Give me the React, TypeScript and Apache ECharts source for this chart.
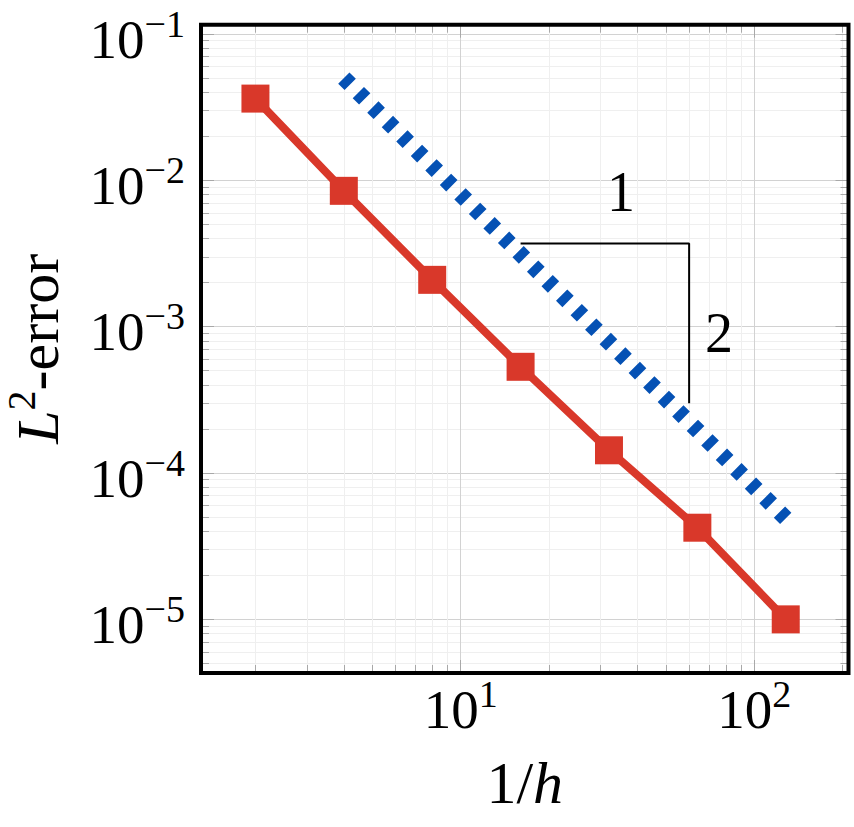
import React, { useEffect, useRef } from "react";
import * as echarts from "echarts";

// ---- data ----
const H_INV = [2, 4, 8, 16, 32, 64, 128];
const L2_ERROR = [0.0362, 0.00848, 0.00209, 0.000532, 0.000143, 0.0000423, 0.00001];
const REF_X = [4, 128];
const REF_Y = [0.05, 0.000049];
const TRI_X = [16, 60, 60];
const TRI_Y = [0.0037, 0.0037, 0.0003];
const SLOPE_TEXT = ["1", "2"];
const SLOPE_X = [35.2, 75.8];
const SLOPE_Y = [0.0083, 0.00091];
const X_MAJOR_EXP = [1, 2];
const Y_MAJOR_EXP = [-1, -2, -3, -4, -5];
const MINOR_MANTISSA = [2, 3, 4, 5, 6, 7, 8, 9];
const X_LIMITS = [1.305, 209.4];
const Y_LIMITS = [4.3e-6, 0.1158];

const FONT = "Liberation Serif";
const RED = "#d9382a";
const BLUE = "#0551b4";

const lg = (v: number) => Math.log10(v);

function minorTicks(lo: number, hi: number) {
  const out: number[] = [];
  for (let e = Math.floor(lo) - 1; e <= Math.ceil(hi); e++) {
    for (const m of MINOR_MANTISSA) {
      const v = lg(m) + e;
      if (v > lo && v < hi) out.push(v);
    }
  }
  return out;
}

export default function App() {
  const ref = useRef<HTMLDivElement>(null);
  useEffect(() => {
    if (!ref.current) return;
    const chart = echarts.init(ref.current, null, { renderer: "svg" });
    const xmin = lg(X_LIMITS[0]);
    const xmax = lg(X_LIMITS[1]);
    const ymin = lg(Y_LIMITS[0]);
    const ymax = lg(Y_LIMITS[1]);
    const xMinor = minorTicks(xmin, xmax);
    const yMinor = minorTicks(ymin, ymax);

    const labelRich = {
      b: { fontSize: 55, lineHeight: 55, padding: [10, 0, 0, 0], fontFamily: FONT, color: "#000" },
      s: { fontSize: 38, lineHeight: 38, padding: [3, 0, 24, 0], fontFamily: FONT, color: "#000" },
    };
    const tickColor = "#a8a8a8";
    const majorGrid = "#d2d2d2";
    const minorGrid = "#efefef";

    const baseX = (extra: any) => ({
      type: "value",
      min: xmin,
      max: xmax,
      axisLine: { show: false },
      ...extra,
    });
    const baseY = (extra: any) => ({
      type: "value",
      min: ymin,
      max: ymax,
      axisLine: { show: false },
      ...extra,
    });

    chart.setOption({
      animation: false,
      backgroundColor: "#fff",
      grid: {
        left: 201,
        top: 24.7,
        width: 647.5,
        height: 648.3,
        containLabel: false,
        outerBoundsMode: "none",
        show: true,
        borderColor: "#000",
        borderWidth: 4,
        backgroundColor: "transparent",
        z: 5,
      },
      xAxis: [
        baseX({
          position: "bottom",
          axisTick: { show: true, inside: true, length: 13, customValues: X_MAJOR_EXP, lineStyle: { color: tickColor, width: 1 } },
          axisLabel: {
            show: true,
            margin: 4,
            customValues: X_MAJOR_EXP,
            formatter: (v: number) => `{b|10}{s|${Math.round(v)}}`,
            rich: labelRich,
          },
          splitLine: { show: true, lineStyle: { color: majorGrid, width: 1 } },
          name: "{n|1/}{i|h}",
          nameLocation: "middle",
          nameGap: 80,
          nameTextStyle: {
            rich: {
              n: { fontSize: 60, fontFamily: FONT, color: "#000" },
              i: { fontSize: 60, fontFamily: FONT, fontStyle: "italic", color: "#000" },
            },
          },
        }),
        baseX({
          position: "bottom",
          axisTick: { show: true, inside: true, length: 8, customValues: xMinor, lineStyle: { color: tickColor, width: 1 } },
          axisLabel: { show: false },
          splitLine: { show: true, lineStyle: { color: minorGrid, width: 1 } },
        }),
        baseX({
          position: "top",
          axisTick: { show: true, inside: true, length: 13, customValues: X_MAJOR_EXP, lineStyle: { color: tickColor, width: 1 } },
          axisLabel: { show: false },
          splitLine: { show: false },
        }),
        baseX({
          position: "top",
          axisTick: { show: true, inside: true, length: 8, customValues: xMinor, lineStyle: { color: tickColor, width: 1 } },
          axisLabel: { show: false },
          splitLine: { show: false },
        }),
      ],
      yAxis: [
        baseY({
          position: "left",
          axisTick: { show: true, inside: true, length: 13, customValues: Y_MAJOR_EXP, lineStyle: { color: tickColor, width: 1 } },
          axisLabel: {
            show: true,
            margin: 16,
            customValues: Y_MAJOR_EXP,
            formatter: (v: number) => `{b|10}{s|\u2212${Math.round(-v)}}`,
            rich: labelRich,
          },
          splitLine: { show: true, lineStyle: { color: majorGrid, width: 1 } },
          name: "{i|L}{s|2}{n|-error}",
          nameLocation: "middle",
          nameGap: 138,
          nameTextStyle: {
            rich: {
              i: { fontSize: 60, lineHeight: 60, padding: [10, 0, 0, 0], fontFamily: FONT, fontStyle: "italic", color: "#000" },
              s: { fontSize: 40, lineHeight: 40, padding: [3, 0, 27, 0], fontFamily: FONT, color: "#000" },
              n: { fontSize: 60, lineHeight: 60, padding: [10, 0, 0, 0], fontFamily: FONT, color: "#000" },
            },
          },
        }),
        baseY({
          position: "left",
          axisTick: { show: true, inside: true, length: 8, customValues: yMinor, lineStyle: { color: tickColor, width: 1 } },
          axisLabel: { show: false },
          splitLine: { show: true, lineStyle: { color: minorGrid, width: 1 } },
        }),
        baseY({
          position: "right",
          axisTick: { show: true, inside: true, length: 13, customValues: Y_MAJOR_EXP, lineStyle: { color: tickColor, width: 1 } },
          axisLabel: { show: false },
          splitLine: { show: false },
        }),
        baseY({
          position: "right",
          axisTick: { show: true, inside: true, length: 8, customValues: yMinor, lineStyle: { color: tickColor, width: 1 } },
          axisLabel: { show: false },
          splitLine: { show: false },
        }),
      ],
      series: [
        {
          type: "line",
          name: "reference slope",
          data: REF_X.map((x, i) => [lg(x), lg(REF_Y[i])]),
          symbol: "none",
          lineStyle: { color: BLUE, width: 16, type: [9, 11.5], cap: "butt" },
          z: 2,
        },
        {
          type: "line",
          name: "L2-error",
          data: H_INV.map((x, i) => [lg(x), lg(L2_ERROR[i])]),
          symbol: "rect",
          symbolSize: 28,
          itemStyle: { color: RED },
          lineStyle: { color: RED, width: 8 },
          z: 3,
        },
        {
          type: "line",
          name: "triangle",
          data: TRI_X.map((x, i) => [lg(x), lg(TRI_Y[i])]),
          symbol: "none",
          lineStyle: { color: "#000", width: 2 },
          z: 4,
        },
        {
          type: "scatter",
          name: "slope labels",
          data: SLOPE_X.map((x, i) => ({ value: [lg(x), lg(SLOPE_Y[i])], name: SLOPE_TEXT[i] })),
          symbolSize: 1,
          itemStyle: { color: "rgba(0,0,0,0)", opacity: 1 },
          label: {
            show: true,
            position: "inside",
            formatter: (p: any) => p.name,
            fontSize: 56,
            fontFamily: FONT,
            color: "#000",
            opacity: 1,
            textBorderWidth: 0,
          },
          z: 4,
        },
      ],
    });
    return () => chart.dispose();
  }, []);
  return (
    <div
      ref={ref}
      style={{ position: "fixed", left: 0, top: 0, width: 854, height: 827, background: "#fff" }}
    />
  );
}
